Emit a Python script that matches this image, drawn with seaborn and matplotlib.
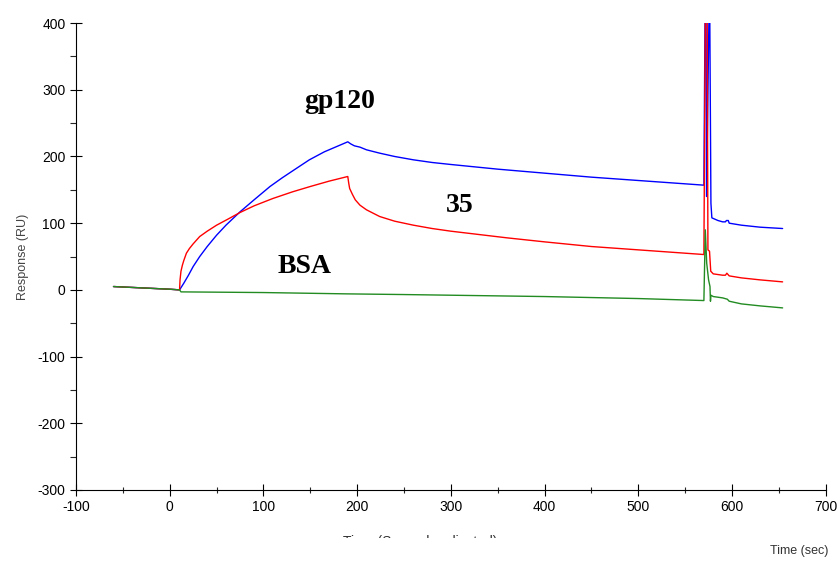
import numpy as np
import pandas as pd
import seaborn as sns
import matplotlib.pyplot as plt
from matplotlib.ticker import MultipleLocator
from matplotlib.transforms import Bbox

# sensorgram traces (time in s, response in RU)
gp120_t = [-60, -30, 0, 10.5, 15, 20, 25, 32, 40, 50, 60, 75, 90, 107, 120, 135, 149,
           165, 180, 190, 193, 197, 203, 210, 224, 240, 260, 280, 300, 350, 400, 450,
           500, 550, 570, 571.3, 572.3, 572.8, 575.6, 576.2, 577.5,
           578.5, 585, 590, 593, 594, 596, 597, 610, 630, 654]
gp120_r = [5, 3, 1, 0, 10, 22, 35, 50, 65, 82, 97, 117, 135, 155, 168, 182, 195,
           207, 216, 222, 219, 216, 214, 210, 205, 200, 195, 191, 188, 181, 175, 169,
           164, 159, 157, 430, 430, 140, 430, 430, 130,
           108, 104, 102, 102, 104, 104, 100, 97, 94, 92]

ab35_t = [-60, -30, 0, 10.5, 11, 12, 13.5, 15, 17.8, 21, 25, 32, 40, 50, 62, 75, 90,
          110, 131, 150, 170, 190, 191, 192, 195, 198, 203, 210, 224, 240, 260, 280,
          300, 330, 360, 400, 450, 500, 550, 570, 571.6, 573.5, 574.3,
          576, 577.3, 580, 590, 593, 594.5, 597, 610, 630, 654]
ab35_r = [5, 3, 1, 0, 15, 28, 37, 44, 55, 62, 69, 80, 88, 97, 106, 116, 126,
          137, 147, 155, 163, 170, 160, 152, 143, 135, 127, 120, 110, 103, 97, 92,
          88, 83, 78, 72, 65, 60, 55, 53, 430, 430, 60,
          58, 28, 24, 22, 22, 25, 21, 18, 15, 12]

bsa_t = [-60, -30, 0, 10.5, 12, 100, 190, 250, 300, 400, 500, 570, 571.5, 573, 575,
         576.5, 577, 577.5, 580, 590, 595, 597, 610, 630, 654]
bsa_r = [5, 3, 1, 0, -3, -4, -6, -7, -8, -10, -13, -16, 90, 40, 15,
         5, -17, -8, -10, -12, -14, -17, -21, -24, -27]

df = pd.concat([
    pd.DataFrame({"Time": gp120_t, "Response": gp120_r, "Sample": "gp120"}),
    pd.DataFrame({"Time": ab35_t, "Response": ab35_r, "Sample": "35"}),
    pd.DataFrame({"Time": bsa_t, "Response": bsa_r, "Sample": "BSA"}),
])

sns.set_style("white")
plt.rcParams["font.family"] = ["Liberation Sans", "DejaVu Sans"]
plt.rcParams["axes.unicode_minus"] = False

fig = plt.figure(figsize=(8.4, 5.63), dpi=100)
ax = fig.add_axes([0.0905, 0.1297, 0.8925, 0.8293])

sns.lineplot(data=df, x="Time", y="Response", hue="Sample", estimator=None, sort=False,
             palette={"gp120": "#0000ff", "35": "#ff0000", "BSA": "#228b22"},
             linewidth=1.0, legend=False, ax=ax)

ax.set_xlim(-100, 700)
ax.set_ylim(-300, 400)
ax.xaxis.set_major_locator(MultipleLocator(100))
ax.xaxis.set_minor_locator(MultipleLocator(50))
ax.yaxis.set_major_locator(MultipleLocator(100))
ax.yaxis.set_minor_locator(MultipleLocator(50))
ax.tick_params(which="major", direction="inout", length=8, width=0.8, labelsize=10,
               colors="black", bottom=True, left=True)
ax.tick_params(which="minor", direction="inout", length=4, width=0.8, bottom=True, left=True)
ax.tick_params(axis="y", which="minor", direction="out", length=4)
for s in ["top", "right"]:
    ax.spines[s].set_visible(False)
for s in ["left", "bottom"]:
    ax.spines[s].set_color("black")
    ax.spines[s].set_linewidth(0.8)

ax.set_xlabel("")
ax.set_ylabel("Response (RU)", fontsize=9, color="#444444", labelpad=6)

bold = dict(fontsize=20, fontweight="bold", family=["Liberation Serif", "DejaVu Serif"],
            ha="center", va="center", color="black")
ax.text(181, 283, "gp120", **bold)
ax.text(309, 127, "35", **bold)
ax.text(144, 35, "BSA", **bold)

fig.text(0.952, 0.021, "Time (sec)", fontsize=9, color="#333333", ha="center", va="center")
# partly hidden axis title under the tick labels
t = fig.text(0.50, 0.037, "Time (Seconds adjusted)", fontsize=10, color="#333333",
             ha="center", va="center")
t.set_clip_box(Bbox([[0, 563 - 538], [840, 563]]))
t.set_clip_on(True)

fig.savefig("out.png", dpi=100)
